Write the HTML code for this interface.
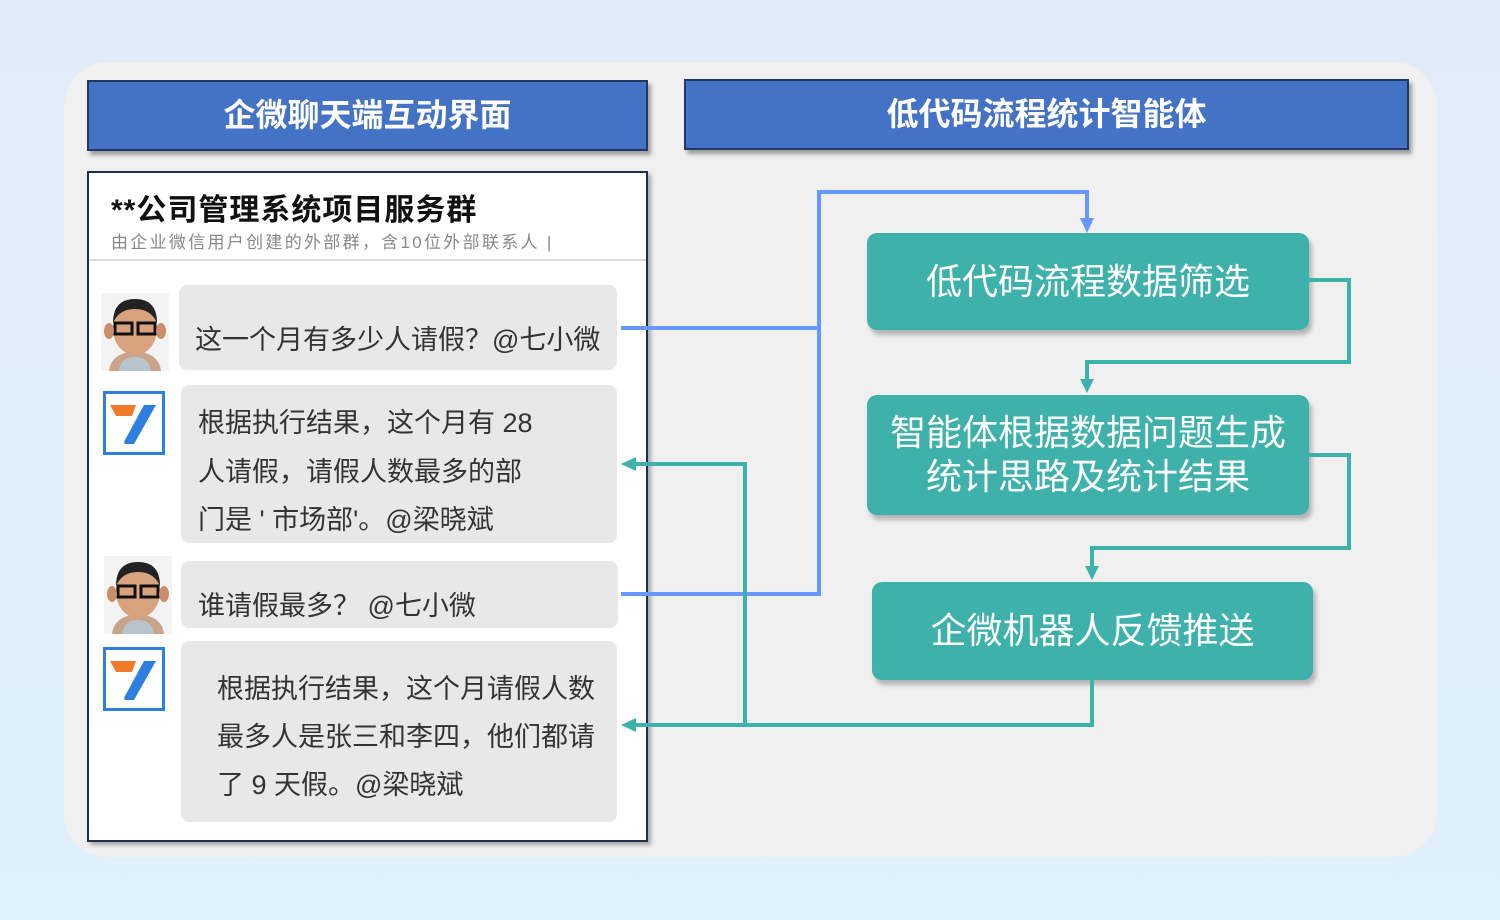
<!DOCTYPE html>
<html><head><meta charset="utf-8"><style>
*{margin:0;padding:0;box-sizing:border-box}
body{width:1500px;height:920px;overflow:hidden;background:linear-gradient(180deg,#e1ebf8 0%,#e0f1fb 100%);font-family:"Liberation Sans","Noto Sans CJK SC",sans-serif;position:relative}
.a{position:absolute}
.panel{left:64px;top:62px;width:1373px;height:795px;background:#f0f0f0;border-radius:44px}
.hdr{background:#4472c4;border:2px solid #1f3864;color:#fff;font-weight:bold;font-size:32px;text-align:center;line-height:66px;box-shadow:3px 4px 4px rgba(0,0,0,.35)}
.chat{left:87px;top:171px;width:561px;height:671px;background:#fff;border:2px solid #1f2d4f;box-shadow:3px 3px 4px rgba(0,0,0,.3)}
.bub{background:#e8e8e8;border-radius:8px;color:#333;font-size:27px}
.bub div{position:absolute;white-space:nowrap}
.tb{background:#3eb1aa;border-radius:10px;color:#fff;font-size:36px;text-align:center;box-shadow:3px 5px 5px rgba(0,0,0,.25);display:flex;align-items:center;justify-content:center;line-height:44px}
.logo{width:62px;height:64px;border:3px solid #2f7fe0;background:#fff}
</style></head><body>
<div class="a panel"></div>
<div class="a hdr" style="left:87px;top:80px;width:561px;height:71px">企微聊天端互动界面</div>
<div class="a hdr" style="left:684px;top:79px;width:725px;height:71px">低代码流程统计智能体</div>
<div class="a chat">
 <div class="a" style="left:22px;top:12px;font-size:30px;letter-spacing:1px;font-weight:bold;color:#111">**公司管理系统项目服务群</div>
 <div class="a" style="left:22px;top:55px;font-size:17px;letter-spacing:2.3px;color:#888">由企业微信用户创建的外部群，含10位外部联系人 |</div>
 <div class="a" style="left:0;top:86px;width:557px;height:2px;background:#ddd"></div>
</div>
<div class="a bub" style="left:179px;top:285px;width:438px;height:85px"><div style="left:16px;top:33px">这一个月有多少人请假？@七小微</div></div>
<div class="a bub" style="left:181px;top:385px;width:436px;height:158px"><div style="left:17px;top:16px">根据执行结果，这个月有 28</div><div style="left:17px;top:65px">人请假，请假人数最多的部</div><div style="left:17px;top:113px">门是 ' 市场部'。@梁晓斌</div></div>
<div class="a bub" style="left:181px;top:561px;width:437px;height:67px"><div style="left:17px;top:23px">谁请假最多？ @七小微</div></div>
<div class="a bub" style="left:181px;top:641px;width:436px;height:181px"><div style="left:36px;top:26px">根据执行结果，这个月请假人数</div><div style="left:36px;top:74px">最多人是张三和李四，他们都请</div><div style="left:36px;top:122px">了 9 天假。@梁晓斌</div></div>
<svg class="a" style="left:101px;top:293px" width="68" height="78" viewBox="0 0 68 78"><rect width="68" height="78" fill="#f3f3f3"/><path d="M8 78 Q10 60 34 58 Q58 60 60 78Z" fill="#c9a48a"/><path d="M18 78 Q20 64 34 64 Q48 64 50 78Z" fill="#b8c4cc"/><ellipse cx="34" cy="36" rx="22" ry="26" fill="#d9a27f"/><path d="M12 30 Q12 6 34 6 Q56 6 56 30 Q50 16 34 16 Q18 16 12 30Z" fill="#222"/><rect x="14" y="30" width="17" height="11" fill="none" stroke="#111" stroke-width="3"/><rect x="37" y="30" width="17" height="11" fill="none" stroke="#111" stroke-width="3"/><ellipse cx="8" cy="38" rx="5" ry="8" fill="#c98e6b"/><ellipse cx="60" cy="38" rx="5" ry="8" fill="#c98e6b"/></svg>
<svg class="a" style="left:104px;top:556px" width="68" height="78" viewBox="0 0 68 78"><rect width="68" height="78" fill="#f3f3f3"/><path d="M8 78 Q10 60 34 58 Q58 60 60 78Z" fill="#c9a48a"/><path d="M18 78 Q20 64 34 64 Q48 64 50 78Z" fill="#b8c4cc"/><ellipse cx="34" cy="36" rx="22" ry="26" fill="#d9a27f"/><path d="M12 30 Q12 6 34 6 Q56 6 56 30 Q50 16 34 16 Q18 16 12 30Z" fill="#222"/><rect x="14" y="30" width="17" height="11" fill="none" stroke="#111" stroke-width="3"/><rect x="37" y="30" width="17" height="11" fill="none" stroke="#111" stroke-width="3"/><ellipse cx="8" cy="38" rx="5" ry="8" fill="#c98e6b"/><ellipse cx="60" cy="38" rx="5" ry="8" fill="#c98e6b"/></svg>
<svg class="a logo" style="left:103px;top:391px" viewBox="0 0 56 58"><path d="M4 11 H30 L26 22 H10Z" fill="#f07a2a"/><path d="M38 11 H50 L28 50 H20 Q17 50 19 46Z" fill="#2f7fe0"/></svg>
<svg class="a logo" style="left:103px;top:647px" viewBox="0 0 56 58"><path d="M4 11 H30 L26 22 H10Z" fill="#f07a2a"/><path d="M38 11 H50 L28 50 H20 Q17 50 19 46Z" fill="#2f7fe0"/></svg>
<div class="a tb" style="left:867px;top:233px;width:442px;height:97px">低代码流程数据筛选</div>
<div class="a tb" style="left:867px;top:395px;width:442px;height:120px">智能体根据数据问题生成<br>统计思路及统计结果</div>
<div class="a tb" style="left:872px;top:582px;width:441px;height:98px">企微机器人反馈推送</div>
<svg class="a" style="left:0;top:0" width="1500" height="920">
<g fill="none" stroke="#6699ff" stroke-width="4">
<path d="M621 328 H819 M621 594 H819 V192 H1087 V220"/>
</g>
<polygon points="1080,218 1094,218 1087,233" fill="#6699ff"/>
<g fill="none" stroke="#3eb1aa" stroke-width="4">
<path d="M1309 280 H1349 V362 H1087 V380"/>
<path d="M1309 455 H1349 V548 H1092 V568"/>
<path d="M1092 680 V725 H634 M745 725 V464 H634"/>
</g>
<polygon points="1080,379 1094,379 1087,393" fill="#3eb1aa"/>
<polygon points="1085,566 1099,566 1092,580" fill="#3eb1aa"/>
<polygon points="636,457 636,471 621,464" fill="#3eb1aa"/>
<polygon points="636,718 636,732 621,725" fill="#3eb1aa"/>
</svg>
</body></html>
